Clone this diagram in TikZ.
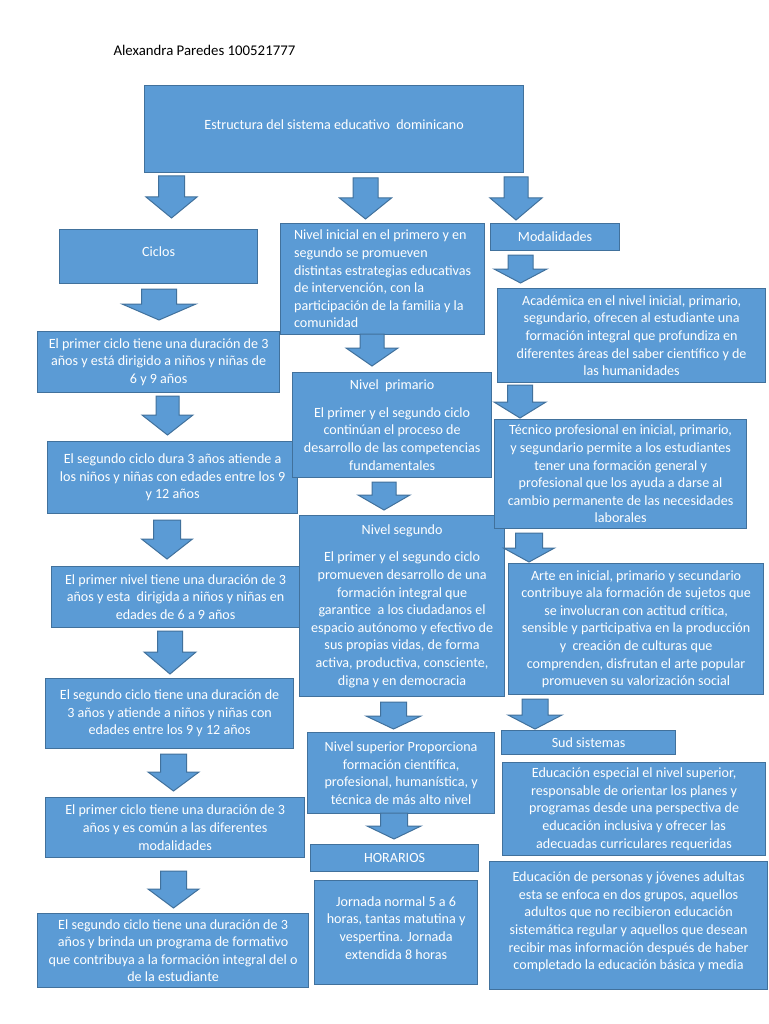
\documentclass[tikz,border=0pt]{standalone}
\usepackage{fontspec}
\setmainfont{Carlito}
\usepackage{tikz}
\definecolor{boxblue}{HTML}{5B9BD5}
\definecolor{boxline}{HTML}{41719C}
\tikzset{
  box/.style={rectangle, draw=boxline, fill=boxblue, line width=1.2pt, text=white,
              align=center, inner sep=0pt, anchor=north west,
              font=\fontsize{14.1}{17.6}\selectfont},
  dims/.style 2 args={minimum width=#1pt, minimum height=#2pt},
  pics/downarrow/.style args={#1/#2/#3/#4}{code={
    \filldraw[fill=boxblue, draw=boxline, line width=1pt]
      (-#1/2,0) -- (#1/2,0) -- (#1/2,#3) -- (#2/2,#3) -- (0,#4)
      -- (-#2/2,#3) -- (-#1/2,#3) -- cycle;
  }},
}

\begin{document}
\begin{tikzpicture}[x=1pt, y=-1pt]
\useasboundingbox[fill=white] (0,0) rectangle (768,1024);
\node[anchor=west, font=\fontsize{14.8}{17}\selectfont] (autora) at (110,50) {Alexandra Paredes 100521777};

% top and first row
\node[box, dims={379}{87}] (titulo) at (144,85) {Estructura del sistema educativo\ \ dominicano\\[-8pt]};
\node[box, dims={198}{54}] (ciclos) at (59,229) {Ciclos\\[-8pt]};
\node[box, dims={204}{111}, align=left] (inicial) at (280,223)
 {Nivel inicial en el primero y en\\segundo se promueven\\distintas estrategias educativas\\de intervención, con la\\participación de la familia y la\\comunidad};
\node[box, dims={129}{27}] (modal) at (490,223) {Modalidades};
\pic (f1) at (171.5,176) {downarrow=26/51/21/42};
\pic (f2) at (365.5,178) {downarrow=25/52/20/41};
\pic (f3) at (516,177) {downarrow=24/52/21/43};

% ciclos column
\pic (f4) at (159,289) {downarrow=35/74/15/31};
\node[box, dims={242}{61}] (c1) at (37,331)
 {El primer ciclo tiene una duración de 3\\años y está dirigido a niños y niñas de\\6 y 9 años};
\pic (f5) at (167.5,396) {downarrow=23/51/19/39};
\node[box, dims={250}{72}] (c2) at (47,441)
 {El segundo ciclo dura 3 años atiende a\\los niños y niñas con edades entre los 9\\y 12 años};
\pic (f6) at (167,520) {downarrow=27/51/19/39};
\node[box, dims={248}{61}] (c3) at (51,566)
 {El primer nivel tiene una duración de 3\\años y esta\ \ dirigida a niños y niñas en\\edades de 6 a 9 años};
\pic (f7) at (170,631) {downarrow=25/52/21/43};
\node[box, dims={248}{70}] (c4) at (45,678)
 {El segundo ciclo tiene una duración de\\3 años y atiende a niños y niñas con\\edades entre los 9 y 12 años};
\pic (f8) at (173.5,754) {downarrow=26/51/18/37};
\node[box, dims={259}{60}] (c5) at (45,797)
 {El primer ciclo tiene una duración de 3\\años y es común a las diferentes\\modalidades};
\pic (f9) at (173.5,871) {downarrow=26/51/18/37};
\node[box, dims={271}{74}] (c6) at (37,913)
 {El segundo ciclo tiene una duración de 3\\años y brinda un programa de formativo\\que contribuya a la formación integral del o\\de la estudiante};

% niveles column
\pic (f10) at (372,334) {downarrow=24/52/14/32};
\node[box, dims={199}{105}] (primario) at (292,372)
 {Nivel\ \ primario\\[10pt]El primer y el segundo ciclo\\continúan el proceso de\\desarrollo de las competencias\\fundamentales};
\pic (f11) at (384,482) {downarrow=24/52/13/28};
\node[box, dims={205}{181}] (segundo) at (299,515)
 {Nivel segundo\\[10pt]El primer y el segundo ciclo\\promueven desarrollo de una\\formación integral que\\garantice\ \ a los ciudadanos el\\espacio autónomo y efectivo de\\sus propias vidas, de forma\\activa, productiva, consciente,\\digna y en democracia};
\pic (f12) at (393.5,702) {downarrow=26/55/14/27};
\node[box, dims={187}{81}] (superior) at (307,732)
 {Nivel superior Proporciona\\formación científica,\\profesional, humanística, y\\técnica de más alto nivel};
\pic (f13) at (394,813) {downarrow=27/54/13/26};
\node[box, dims={168}{27}] (horarios) at (310,844) {HORARIOS};
\node[box, dims={163}{104}] (jornada) at (314,880)
 {Jornada normal 5 a 6\\horas, tantas matutina y\\vespertina. Jornada\\extendida 8 horas\\[-8pt]};

% modalidades column
\pic (f14) at (520.5,255) {downarrow=25/53/14/28};
\node[box, dims={268}{94}] (academica) at (497,288)
 {Académica en el nivel inicial, primario,\\segundario, ofrecen al estudiante una\\formación integral que profundiza en\\diferentes áreas del saber científico y de\\las humanidades};
\pic (f15) at (520,385) {downarrow=25/52/17/33};
\node[box, dims={252}{109}] (tecnico) at (494,419)
 {Técnico profesional en inicial, primario,\\y segundario permite a los estudiantes\\tener una formación general y\\profesional que los ayuda a darse al\\cambio permanente de las necesidades\\laborales};
\pic (f16) at (529,533) {downarrow=27/51/15/29};
\node[box, dims={255}{131}] (arte) at (508,563)
 {Arte en inicial, primario y secundario\\contribuye ala formación de sujetos que\\se involucran con actitud crítica,\\sensible y participativa en la producción\\y\ \ creación de culturas que\\comprenden, disfrutan el arte popular\\promueven su valorización social};
\pic (f17) at (535,699) {downarrow=26/54/16/30};
\node[box, dims={174}{24}] (sud) at (501,730) {Sud sistemas};
\node[box, dims={263}{93}] (especial) at (502,762)
 {Educación especial el nivel superior,\\responsable de orientar los planes y\\programas desde una perspectiva de\\educación inclusiva y ofrecer las\\adecuadas curriculares requeridas};
\node[box, dims={278}{128}] (adultos) at (489,861)
 {Educación de personas y jóvenes adultas\\esta se enfoca en dos grupos, aquellos\\adultos que no recibieron educación\\sistemática regular y aquellos que desean\\recibir mas información después de haber\\completado la educación básica y media\\[-8pt]};
\end{tikzpicture}
\end{document}
